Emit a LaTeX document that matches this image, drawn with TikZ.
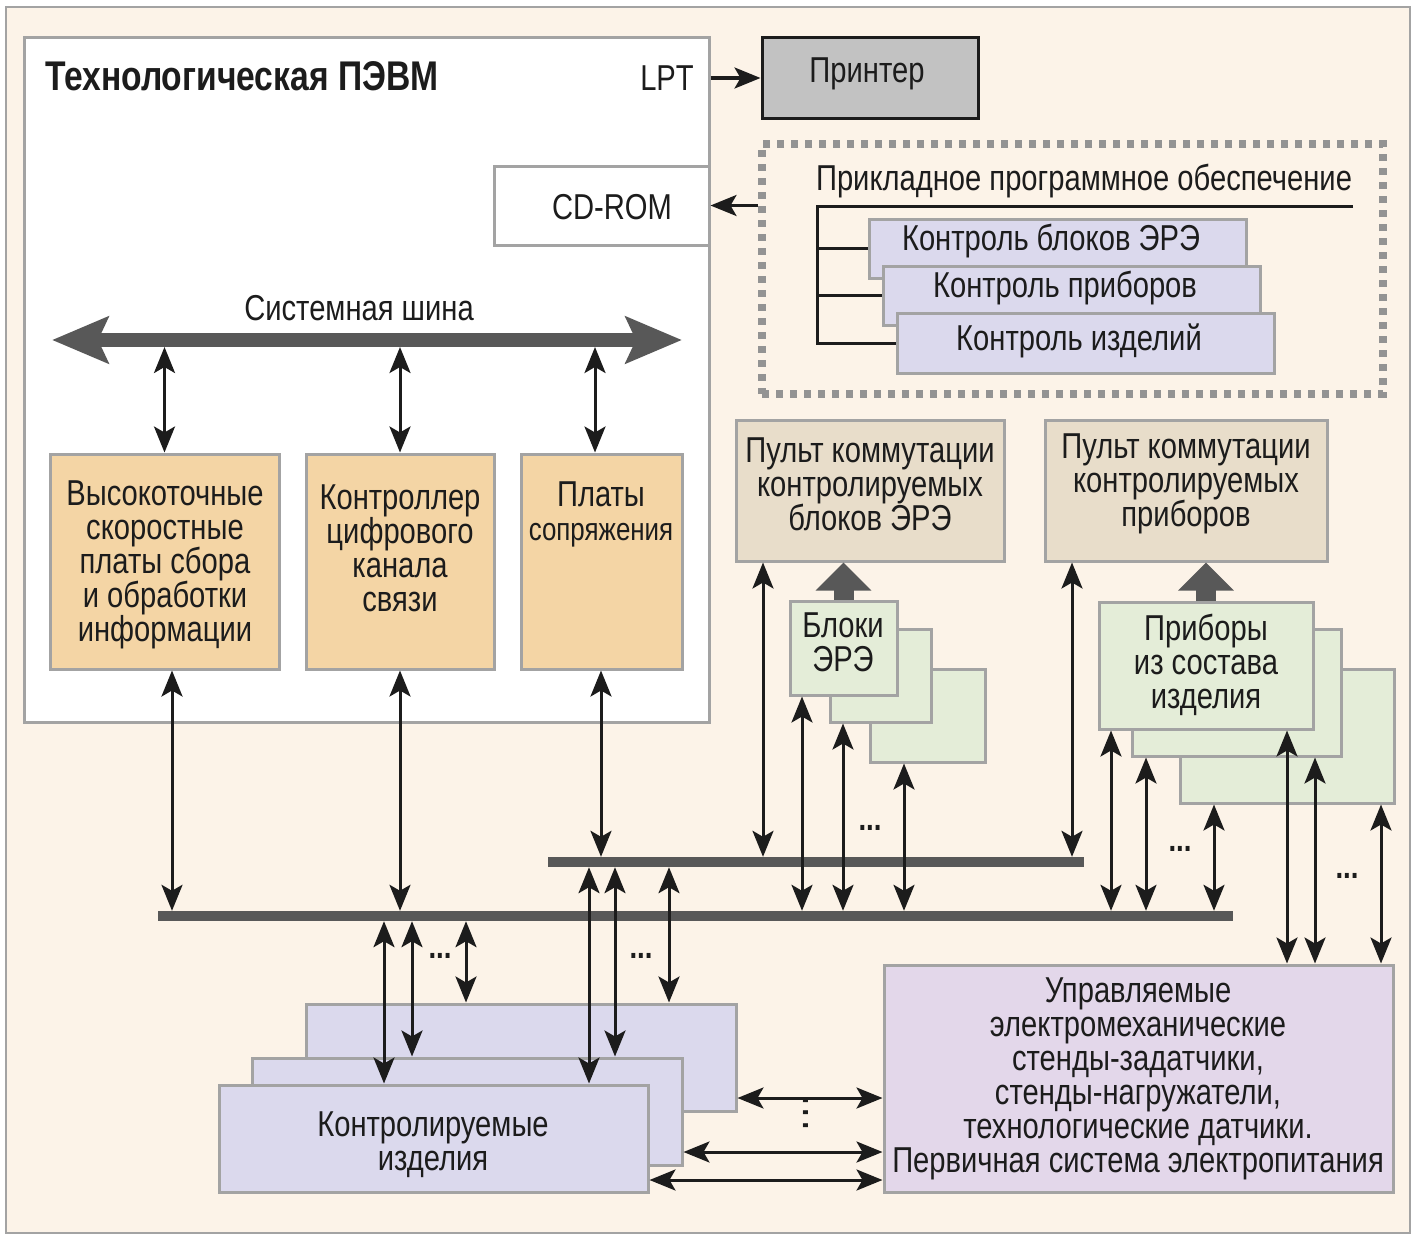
\documentclass[tikz,border=0pt]{standalone}
\usepackage{fontspec}
\setmainfont{Liberation Sans}[FakeStretch=0.81]
\usetikzlibrary{arrows.meta,calc}

\definecolor{paper}{RGB}{252,243,232}
\definecolor{frame}{RGB}{163,163,163}
\definecolor{busgray}{RGB}{88,88,88}
\definecolor{ink}{RGB}{28,28,28}
\definecolor{prngray}{RGB}{194,194,194}
\definecolor{orng}{RGB}{244,213,165}
\definecolor{pult}{RGB}{232,221,202}
\definecolor{grn}{RGB}{228,237,216}
\definecolor{lav}{RGB}{219,217,237}
\definecolor{purp}{RGB}{227,215,234}

\begin{document}
\begin{tikzpicture}[x=1pt,y=-1pt,
  font=\fontsize{36}{34}\selectfont,
  box/.style={draw=frame,line width=3pt,inner sep=0pt},
  txt/.style={align=center,inner sep=0pt,text=ink},
  dots/.style={txt,font=\fontsize{34}{34}\selectfont\bfseries},
  arr/.style={draw=ink,line width=3pt,
    {Stealth[length=26pt,width=21pt,inset=6pt]}-{Stealth[length=26pt,width=21pt,inset=6pt]}},
  arr1/.style={draw=ink,line width=3pt,-{Stealth[length=26pt,width=21pt,inset=6pt]}},
  fat/.style={draw=busgray,line width=20pt,-{Triangle[length=28pt,width=54pt]}},
  bus/.style={fill=busgray,inner sep=0pt,minimum height=10pt}]

\useasboundingbox (0,0) rectangle (1416,1239);
\draw[frame,line width=2pt,fill=paper] (6,7) rectangle (1410,1233);

% PC
\node[box,fill=white,minimum width=685,minimum height=684] (pc) at (366.5,380) {};
\node[txt,anchor=west,font=\fontsize{41.5}{41.5}\selectfont\bfseries] (ttl) at (45,76) {Технологическая ПЭВМ};
\node[txt] (lpt) at (667,78) {LPT};
\node[box,draw=ink,fill=prngray,minimum width=216,minimum height=80] (prn) at (870,78) {};
\node[txt] (tprn) at (867,74) {Принтер};
\node[box,fill=white,minimum width=215,minimum height=79] (cd) at (601.5,205.5) {};
\node[txt] (tcd) at (612,207) {CD-ROM};

% software
\node[draw=frame!90!black,line width=8pt,dash pattern=on 7pt off 7pt,inner sep=0pt,minimum width=621,minimum height=250] (soft) at (1072.5,269) {};
\node[txt] (tsoft) at (1084,181) {Прикладное программное обеспечение};
\node[box,fill=lav,minimum width=377,minimum height=59] (s1) at (1057.5,248.5) {};
\node[box,fill=lav,minimum width=377,minimum height=59] (s2) at (1071.5,295.5) {};
\node[box,fill=lav,minimum width=377,minimum height=60] (s3) at (1085.5,343) {};
\node[txt] (ts1) at (1051,241) {Контроль блоков ЭРЭ};
\node[txt] (ts2) at (1065,288) {Контроль приборов};
\node[txt] (ts3) at (1079,341) {Контроль изделий};
\coordinate (tr) at (817,206);
\coordinate (tre) at (1353,206);
\draw[ink,line width=3pt] (tre) -- (tr) -- (tr |- s3.west) -- (s3.west);
\draw[ink,line width=3pt] (tr |- s1.west) -- (s1.west);
\draw[ink,line width=3pt] (tr |- s2.west) -- (s2.west);

\draw[arr1] (lpt.east -| pc.east) -- (lpt.east -| prn.west);
\draw[arr1] (soft.west |- cd.east) -- (cd.east);

% system bus
\coordinate (sbl) at (52,340);
\coordinate (sbr) at (682,340);
\coordinate (sbb) at (0,347);
\draw[busgray,line width=14pt,{Stealth[length=56pt,width=46pt,inset=10pt]}-{Stealth[length=56pt,width=46pt,inset=10pt]}] (sbl) -- (sbr);
\node[txt] (tbus) at (359,308) {Системная шина};

\node[box,fill=orng,minimum width=229,minimum height=215] (b1) at (164.5,561.5) {};
\node[box,fill=orng,minimum width=188,minimum height=215] (b2) at (400,561.5) {};
\node[box,fill=orng,minimum width=161,minimum height=215] (b3) at (601.5,561.5) {};
\node[txt] (tb1) at (165,565) {Высокоточные\\скоростные\\платы сбора\\и обработки\\информации};
\node[txt] (tb2) at (400,548) {Контроллер\\цифрового\\канала\\связи};
\node[txt] (tb3) at (601,514) {Платы\\{\fontsize{32}{34}\selectfont сопряжения}};

\coordinate (c3) at (595,0);
\draw[arr] (b1.north) -- (b1.north |- sbb);
\draw[arr] (b2.north) -- (b2.north |- sbb);
\draw[arr] (b3.north -| c3) -- (sbb -| c3);

% pults and units
\node[box,fill=pult,minimum width=268,minimum height=141] (p1) at (870,490.5) {};
\node[box,fill=pult,minimum width=282,minimum height=141] (p2) at (1186,490.5) {};
\node[txt] (tp1) at (870,484) {Пульт коммутации\\контролируемых\\блоков ЭРЭ};
\node[txt] (tp2) at (1186,484) {Пульт коммутации\\контролируемых\\приборов};

\node[box,fill=grn,minimum width=115,minimum height=93] (blk3) at (927.5,715.5) {};
\node[box,fill=grn,minimum width=101,minimum height=93] (blk2) at (880.5,675.5) {};
\node[box,fill=grn,minimum width=107,minimum height=94] (blk1) at (843.5,648) {};
\node[txt] (tblk) at (843,642) {Блоки\\ЭРЭ};

\node[box,fill=grn,minimum width=214,minimum height=134] (pr3) at (1287,736) {};
\node[box,fill=grn,minimum width=209,minimum height=127] (pr2) at (1236.5,692.5) {};
\node[box,fill=grn,minimum width=214,minimum height=127] (pr1) at (1206,665.5) {};
\node[txt] (tpr) at (1206,665) {Приборы\\из состава\\изделия};

\draw[fat] (blk1.north) -- (blk1.north |- p1.south);
\draw[fat] (pr1.north) -- (pr1.north |- p2.south);

% buses
\node[bus,minimum width=536] (ubus) at (816,862) {};
\node[bus,minimum width=1075] (lbus) at (695.5,916) {};

% products and stands
\node[box,fill=lav,minimum width=430,minimum height=107] (k3) at (521,1057.5) {};
\node[box,fill=lav,minimum width=430,minimum height=107] (k2) at (467,1111.5) {};
\node[box,fill=lav,minimum width=429,minimum height=107] (k1) at (433.5,1138.5) {};
\node[txt] (tk) at (433,1145) {Контролируемые\\изделия};
\node[box,fill=purp,minimum width=509,minimum height=227] (upr) at (1138.5,1078.5) {};
\node[txt] (tupr) at (1138,1079) {Управляемые\\электромеханические\\стенды-задатчики,\\стенды-нагружатели,\\технологические датчики.\\Первичная система электропитания};

% links
\foreach \n/\x in {b1/172,b2/400}{
  \coordinate (c) at (\x,0);
  \draw[arr] (\n.south -| c) -- (lbus.north -| c);
}
\foreach \n/\x in {b3/601,p1/763,p2/1072}{
  \coordinate (c) at (\x,0);
  \draw[arr] (\n.south -| c) -- (ubus.north -| c);
}
\foreach \n/\x in {blk1/802,blk2/843,blk3/904,pr1/1111,pr2/1146,pr3/1214}{
  \coordinate (c) at (\x,0);
  \draw[arr] (\n.south -| c) -- (lbus.north -| c);
}
\foreach \n/\x in {pr1/1287,pr2/1315,pr3/1381}{
  \coordinate (c) at (\x,0);
  \draw[arr] (\n.south -| c) -- (upr.north -| c);
}
\foreach \n/\x in {k1/384,k2/412,k3/466}{
  \coordinate (c) at (\x,0);
  \draw[arr] (lbus.south -| c) -- (\n.north -| c);
}
\foreach \n/\x in {k1/589,k2/615,k3/669}{
  \coordinate (c) at (\x,0);
  \draw[arr] (ubus.south -| c) -- (\n.north -| c);
}
\foreach \n/\y in {k3/1098,k2/1152,k1/1180}{
  \coordinate (c) at (0,\y);
  \draw[arr] (\n.east |- c) -- (upr.west |- c);
}

% dots
\node[dots] (d1) at (870,828) {...};
\node[dots] (d2) at (1180,849) {...};
\node[dots] (d3) at (1347,876) {...};
\node[dots] (d4) at (440,956) {...};
\node[dots] (d5) at (641,956) {...};
\node[dots,rotate=90] (d6) at (806,1113) {.\kern5pt.\kern5pt.};

\end{tikzpicture}
\end{document}
